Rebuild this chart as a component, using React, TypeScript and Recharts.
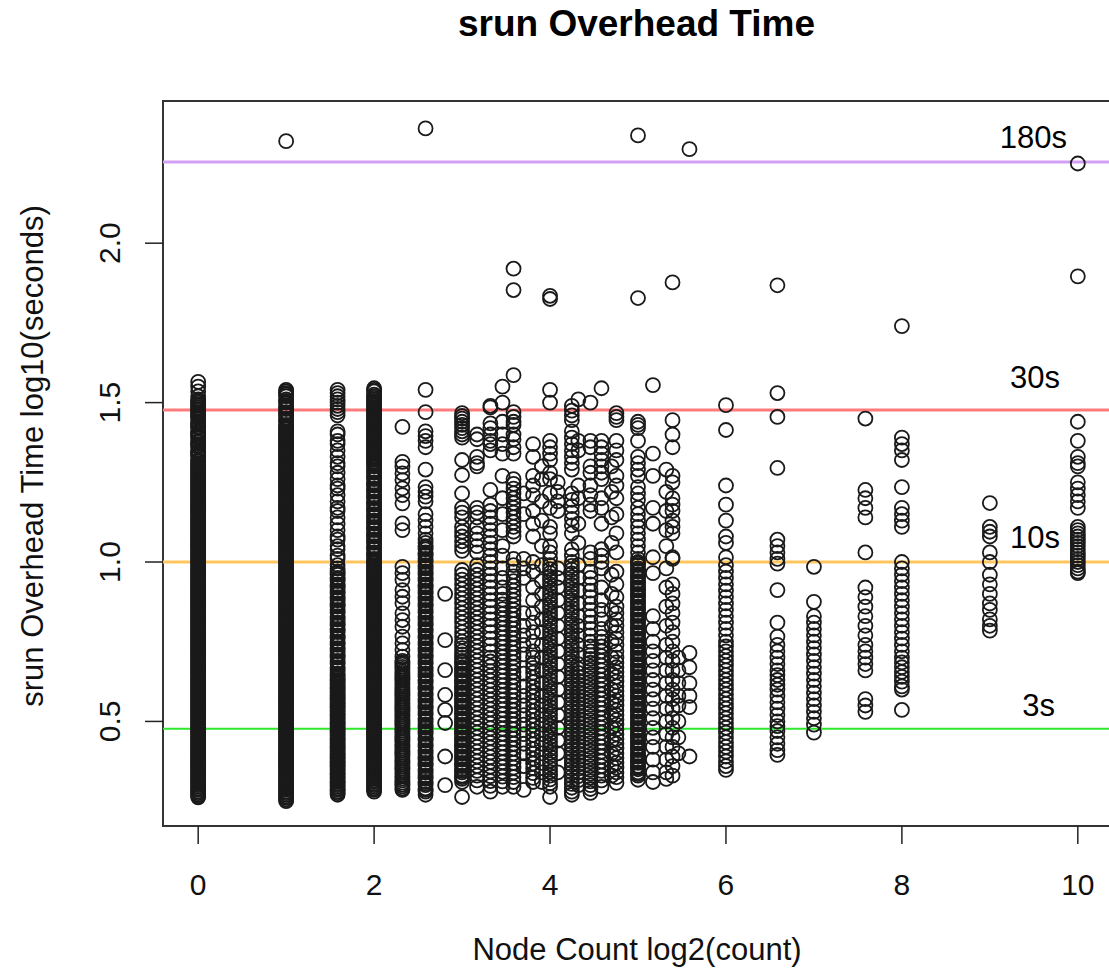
import React from "react";
import { ScatterChart, Scatter, XAxis, YAxis, ReferenceLine, ReferenceArea } from "recharts";

// x tick labels / y tick labels
const xTicks = [0, 2, 4, 6, 8, 10];
const yTicks = [0.5, 1.0, 1.5, 2.0];
const yTickLabels = ["0.5", "1.0", "1.5", "2.0"];

// threshold lines (log10 seconds) and their labels
const thresholdValues = [2.255, 1.477, 1.0, 0.477];
const thresholdLabels = ["180s", "30s", "10s", "3s"];

// srun overhead, log10(seconds), grouped by node count
const col_1 = [1.565,1.55,1.535,1.52,1.51,1.5,1.49,1.48,1.47,1.46,1.45,1.44,1.43,1.42,1.41,1.4,1.39,1.38,1.37,1.36,1.35,1.34,1.33,1.32,1.31,1.3,1.29,1.28,1.27,1.26,1.25,1.24,1.23,1.22,1.21,1.2,1.19,1.18,1.17,1.16,1.15,1.14,1.13,1.12,1.11,1.1,1.09,1.08,1.07,1.06,1.05,1.04,1.03,1.02,1.01,1.0,0.99,0.98,0.97,0.96,0.95,0.94,0.93,0.92,0.91,0.9,0.89,0.88,0.87,0.86,0.85,0.84,0.83,0.82,0.81,0.8,0.79,0.78,0.77,0.76,0.75,0.74,0.73,0.72,0.71,0.7,0.69,0.68,0.67,0.66,0.65,0.64,0.63,0.62,0.61,0.6,0.59,0.58,0.57,0.56,0.55,0.54,0.53,0.52,0.51,0.5,0.49,0.48,0.47,0.46,0.45,0.44,0.43,0.42,0.41,0.4,0.39,0.38,0.37,0.36,0.35,0.34,0.33,0.32,0.31,0.3,0.29,0.28,0.27,0.262,
  1.505,1.495,1.485,1.475,1.465,1.455,1.435,1.425,1.405,1.395,1.375,1.365,1.345,1.335,1.315,1.305,1.295,1.285,1.275,1.265,1.255,1.245,1.235,1.225,1.215,1.205,1.195,1.185,1.175,1.165,1.155,1.145,1.135,1.125,1.115,1.105,1.095,1.085,1.075,1.065,1.055,1.045,1.035,1.025,1.015,1.005,0.995,0.985,0.975,0.965,0.955,0.945,0.935,0.925,0.915,0.905,0.895,0.885,0.875,0.865,0.855,0.845,0.835,0.825,0.815,0.805,0.795,0.785,0.775,0.765,0.755,0.745,0.735,0.725,0.715,0.705,0.695,0.685,0.675,0.665,0.655,0.645,0.635,0.625,0.615,0.605,0.595,0.585,0.575,0.565,0.555,0.545,0.535,0.525,0.515,0.505,0.495,0.485,0.475,0.465,0.455,0.445,0.435,0.425,0.415,0.405,0.395,0.385,0.375,0.365,0.355,0.345,0.335,0.325,0.315,0.305,0.295,0.285,0.275,0.266];
const col_2 = [2.32,1.54,1.535,1.53,1.52,1.51,1.5,1.49,1.48,1.47,1.46,1.45,1.44,1.43,1.42,1.41,1.4,1.39,1.38,1.37,1.36,1.35,1.34,1.33,1.32,1.31,1.3,1.29,1.28,1.27,1.26,1.25,1.24,1.23,1.22,1.21,1.2,1.19,1.18,1.17,1.16,1.15,1.14,1.13,1.12,1.11,1.1,1.09,1.08,1.07,1.06,1.05,1.04,1.03,1.02,1.01,1.0,0.99,0.98,0.97,0.96,0.95,0.94,0.93,0.92,0.91,0.9,0.89,0.88,0.87,0.86,0.85,0.84,0.83,0.82,0.81,0.8,0.79,0.78,0.77,0.76,0.75,0.74,0.73,0.72,0.71,0.7,0.69,0.68,0.67,0.66,0.65,0.64,0.63,0.62,0.61,0.6,0.59,0.58,0.57,0.56,0.55,0.54,0.53,0.52,0.51,0.5,0.49,0.48,0.47,0.46,0.45,0.44,0.43,0.42,0.41,0.4,0.39,0.38,0.37,0.36,0.35,0.34,0.33,0.32,0.31,0.3,0.29,0.28,0.27,0.26,0.25,
  1.525,1.505,1.485,1.465,1.445,1.425,1.415,1.405,1.395,1.385,1.375,1.365,1.355,1.345,1.335,1.325,1.315,1.305,1.295,1.285,1.275,1.265,1.255,1.245,1.235,1.225,1.215,1.205,1.195,1.185,1.175,1.165,1.155,1.145,1.135,1.125,1.115,1.105,1.095,1.085,1.075,1.065,1.055,1.045,1.035,1.025,1.015,1.005,0.995,0.985,0.975,0.965,0.955,0.945,0.935,0.925,0.915,0.905,0.895,0.885,0.875,0.865,0.855,0.845,0.835,0.825,0.815,0.805,0.795,0.785,0.775,0.765,0.755,0.745,0.735,0.725,0.715,0.705,0.695,0.685,0.675,0.665,0.655,0.645,0.635,0.625,0.615,0.605,0.595,0.585,0.575,0.565,0.555,0.545,0.535,0.525,0.515,0.505,0.495,0.485,0.475,0.465,0.455,0.445,0.435,0.425,0.415,0.405,0.395,0.385,0.375,0.365,0.355,0.345,0.335,0.325,0.315,0.305,0.295,0.285,0.275,0.265,0.255];
const col_3 = [1.54,1.53,1.52,1.51,1.5,1.49,1.48,1.47,1.46,1.41,1.4,1.38,1.37,1.35,1.33,1.31,1.3,1.28,1.26,1.24,1.23,1.21,1.19,1.17,1.16,1.14,1.12,1.1,1.08,1.07,1.05,1.04,1.02,1.01,0.99,0.98,0.97,0.96,0.95,0.94,0.93,0.92,0.91,0.9,0.89,0.88,0.87,0.86,0.85,0.84,0.83,0.82,0.81,0.8,0.79,0.78,0.77,0.76,0.75,0.74,0.73,0.72,0.71,0.7,0.69,0.68,0.67,0.66,0.65,0.64,0.63,0.62,0.61,0.6,0.59,0.58,0.57,0.56,0.55,0.54,0.53,0.52,0.51,0.5,0.49,0.48,0.47,0.46,0.45,0.44,0.43,0.42,0.41,0.4,0.39,0.38,0.37,0.36,0.35,0.34,0.33,0.32,0.31,0.3,0.29,0.28,0.27,
  0.965,0.945,0.925,0.905,0.885,0.865,0.845,0.825,0.805,0.785,0.765,0.745,0.725,0.705,0.685,0.665,0.645,0.635,0.625,0.615,0.605,0.595,0.585,0.575,0.565,0.555,0.545,0.535,0.525,0.515,0.505,0.495,0.485,0.475,0.465,0.455,0.445,0.435,0.425,0.415,0.405,0.395,0.385,0.375,0.365,0.355,0.345,0.335,0.325,0.315,0.305,0.295,0.285,0.275];
const col_4 = [1.545,1.54,1.535,1.52,1.51,1.5,1.49,1.48,1.47,1.46,1.45,1.44,1.43,1.42,1.41,1.4,1.39,1.38,1.37,1.36,1.35,1.34,1.33,1.32,1.31,1.3,1.29,1.28,1.27,1.26,1.25,1.24,1.23,1.22,1.21,1.2,1.19,1.18,1.17,1.16,1.15,1.14,1.13,1.12,1.11,1.1,1.09,1.08,1.07,1.06,1.05,1.04,1.03,1.02,1.01,1.0,0.99,0.98,0.97,0.96,0.95,0.94,0.93,0.92,0.91,0.9,0.89,0.88,0.87,0.86,0.85,0.84,0.83,0.82,0.81,0.8,0.79,0.78,0.77,0.76,0.75,0.74,0.73,0.72,0.71,0.7,0.69,0.68,0.67,0.66,0.65,0.64,0.63,0.62,0.61,0.6,0.59,0.58,0.57,0.56,0.55,0.54,0.53,0.52,0.51,0.5,0.49,0.48,0.47,0.46,0.45,0.44,0.43,0.42,0.41,0.4,0.39,0.38,0.37,0.36,0.35,0.34,0.33,0.32,0.31,0.3,0.29,0.28,
  1.525,1.515,1.505,1.495,1.485,1.475,1.465,1.455,1.445,1.435,1.425,1.415,1.405,1.395,1.385,1.375,1.365,1.355,1.345,1.335,1.325,1.315,1.305,1.285,1.265,1.245,1.225,1.205,1.185,1.165,1.145,1.125,1.105,1.085,1.065,1.045,1.025,1.005,0.995,0.985,0.975,0.965,0.955,0.945,0.935,0.925,0.915,0.905,0.895,0.885,0.875,0.865,0.855,0.845,0.835,0.825,0.815,0.805,0.795,0.785,0.775,0.765,0.755,0.745,0.735,0.725,0.715,0.705,0.695,0.685,0.675,0.665,0.655,0.645,0.635,0.625,0.615,0.605,0.595,0.585,0.575,0.565,0.555,0.545,0.535,0.525,0.515,0.505,0.495,0.485,0.475,0.465,0.455,0.445,0.435,0.425,0.415,0.405,0.395,0.385,0.375,0.365,0.355,0.345,0.335,0.325,0.315,0.305,0.295,0.285];
const col_5 = [1.424,1.314,1.299,1.278,1.257,1.231,1.21,1.184,1.121,1.1,0.985,0.965,0.944,0.912,0.891,0.871,0.839,0.818,0.797,0.766,0.745,0.724,0.703,0.69,0.678,0.665,0.652,0.64,0.628,0.615,0.602,0.59,0.578,0.565,0.552,0.54,0.528,0.515,0.502,0.49,0.478,0.465,0.452,0.44,0.428,0.415,0.402,0.39,0.378,0.365,0.352,0.34,0.328,0.315,0.302,0.29,0.285,
  0.684,0.671,0.658,0.646,0.634,0.621,0.608,0.596,0.584,0.571,0.558,0.546,0.534,0.521,0.508,0.496,0.484,0.471,0.458,0.446,0.434,0.421,0.408,0.396,0.384,0.371,0.358,0.346,0.334,0.321,0.308,0.296];
const col_6 = [2.36,1.54,1.47,1.41,1.395,1.38,1.36,1.29,1.235,1.22,1.205,1.19,1.15,1.13,1.11,1.09,1.07,1.06,1.05,1.04,1.03,1.02,1.01,1.0,0.99,0.98,0.97,0.96,0.95,0.94,0.93,0.92,0.91,0.9,0.89,0.88,0.87,0.86,0.85,0.84,0.83,0.82,0.81,0.8,0.79,0.78,0.77,0.76,0.75,0.74,0.73,0.72,0.71,0.7,0.69,0.68,0.67,0.66,0.65,0.64,0.63,0.62,0.61,0.6,0.59,0.58,0.57,0.56,0.55,0.54,0.53,0.52,0.51,0.5,0.49,0.48,0.47,0.46,0.45,0.44,0.43,0.42,0.41,0.4,0.39,0.38,0.37,0.36,0.35,0.34,0.33,0.32,0.31,0.3,0.29,0.28,0.27,
  1.045,1.025,1.005,0.985,0.965,0.945,0.925,0.905,0.885,0.865,0.845,0.825,0.805,0.785,0.765,0.745,0.725,0.705,0.685,0.665,0.645,0.625,0.605,0.585,0.565,0.545,0.525,0.505,0.485,0.465,0.445,0.425,0.405,0.385,0.365,0.345,0.325,0.305,0.285];
const col_7 = [0.9,0.755,0.661,0.583,0.536,0.495,0.39,0.3];
const col_8 = [1.467,1.458,1.45,1.44,1.43,1.42,1.41,1.4,1.39,1.32,1.273,1.215,1.17,1.155,1.14,1.11,1.095,1.08,1.065,1.05,1.035,0.975,0.96,0.945,0.93,0.915,0.9,0.885,0.87,0.855,0.84,0.825,0.81,0.795,0.78,0.765,0.75,0.74,0.73,0.72,0.71,0.7,0.69,0.68,0.67,0.66,0.65,0.64,0.63,0.62,0.61,0.6,0.59,0.58,0.57,0.56,0.55,0.54,0.53,0.52,0.51,0.5,0.49,0.48,0.47,0.46,0.45,0.44,0.43,0.42,0.41,0.4,0.39,0.38,0.37,0.36,0.35,0.34,0.33,0.32,0.31,0.263,
  0.685,0.665,0.645,0.625,0.605,0.585,0.565,0.545,0.525,0.505,0.485,0.465,0.445,0.425,0.405,0.385,0.365,0.345,0.325];
const col_9 = [1.4,1.385,1.33,1.31,1.3,1.17,1.155,1.14,1.11,1.09,1.07,1.05,1.03,0.99,0.975,0.96,0.945,0.93,0.915,0.9,0.885,0.87,0.855,0.84,0.825,0.81,0.795,0.78,0.765,0.75,0.735,0.72,0.705,0.69,0.675,0.66,0.645,0.63,0.615,0.6,0.585,0.57,0.555,0.54,0.525,0.51,0.495,0.48,0.465,0.45,0.435,0.42,0.405,0.39,0.375,0.36,0.345,0.33,0.315,0.295];
const col_10 = [1.49,1.485,1.435,1.42,1.4,1.38,1.37,1.35,1.226,1.18,1.16,1.14,1.12,1.1,1.08,1.06,1.04,1.02,1.0,0.98,0.96,0.94,0.92,0.9,0.88,0.86,0.84,0.82,0.8,0.78,0.76,0.74,0.72,0.7,0.688,0.673,0.658,0.643,0.628,0.613,0.598,0.583,0.568,0.553,0.538,0.523,0.508,0.493,0.478,0.463,0.448,0.433,0.418,0.403,0.388,0.373,0.358,0.343,0.328,0.313,0.298,0.28];
const col_11 = [1.55,1.5,1.44,1.4,1.37,1.34,1.27,1.2,1.15,1.1,1.05,1.02,0.98,0.95,0.92,0.9,0.882,0.867,0.852,0.837,0.822,0.807,0.792,0.777,0.762,0.747,0.732,0.717,0.702,0.687,0.672,0.657,0.642,0.627,0.612,0.597,0.582,0.567,0.552,0.537,0.522,0.507,0.492,0.477,0.462,0.447,0.432,0.417,0.402,0.387,0.372,0.357,0.342,0.327,0.312,0.295];
const col_12 = [1.92,1.853,1.586,1.47,1.455,1.44,1.43,1.4,1.385,1.36,1.34,1.26,1.245,1.23,1.215,1.2,1.185,1.17,1.155,1.14,1.125,1.11,1.095,1.08,1.01,0.99,0.97,0.955,0.94,0.925,0.91,0.895,0.88,0.865,0.85,0.835,0.82,0.805,0.79,0.775,0.76,0.745,0.73,0.715,0.7,0.685,0.67,0.655,0.64,0.625,0.61,0.595,0.58,0.565,0.55,0.535,0.52,0.505,0.49,0.475,0.46,0.445,0.43,0.415,0.4,0.385,0.37,0.355,0.34,0.325,0.31,0.295];
const col_13 = [1.215,1.15,1.01,0.98,0.95,0.84,0.8,0.77,0.74,0.71,0.65,0.61,0.58,0.55,0.52,0.49,0.46,0.43,0.4,0.36,0.285];
const col_14 = [1.37,1.33,1.27,1.24,1.21,1.16,1.12,1.08,1.0,0.97,0.92,0.88,0.84,0.81,0.78,0.75,0.72,0.7,0.683,0.668,0.653,0.638,0.623,0.608,0.593,0.578,0.563,0.548,0.533,0.518,0.503,0.488,0.473,0.458,0.443,0.428,0.413,0.398,0.383,0.368,0.353,0.338,0.323,0.31];
const col_15 = [1.3,1.26,1.19,1.13,1.05,0.99,0.94,0.9,0.86,0.82,0.78,0.74,0.7,0.66,0.62,0.58,0.55,0.52,0.49,0.46,0.43,0.4,0.37,0.34,0.31];
const col_16 = [1.835,1.825,1.54,1.5,1.38,1.36,1.34,1.32,1.28,1.26,1.215,1.17,1.11,1.09,1.05,1.03,1.01,0.99,0.978,0.966,0.954,0.942,0.93,0.918,0.906,0.894,0.882,0.87,0.858,0.846,0.834,0.822,0.81,0.798,0.786,0.774,0.762,0.75,0.738,0.726,0.714,0.702,0.69,0.678,0.666,0.654,0.642,0.63,0.618,0.606,0.594,0.582,0.57,0.558,0.546,0.534,0.522,0.51,0.498,0.486,0.474,0.462,0.45,0.438,0.426,0.414,0.402,0.39,0.378,0.366,0.354,0.342,0.33,0.318,0.306,0.295,0.263];
const col_17 = [1.25,1.22,1.19,1.16,0.98,0.95,0.92,0.88,0.84,0.8,0.76,0.72,0.68,0.64,0.6,0.56,0.52,0.48,0.44,0.4,0.34];
const col_19 = [1.49,1.475,1.46,1.445,1.41,1.39,1.37,1.35,1.33,1.31,1.29,1.215,1.195,1.175,1.155,1.135,1.115,1.09,1.04,1.02,1.0,0.988,0.976,0.964,0.952,0.94,0.928,0.916,0.904,0.892,0.88,0.868,0.856,0.844,0.832,0.82,0.808,0.796,0.784,0.772,0.76,0.748,0.736,0.724,0.712,0.7,0.688,0.676,0.664,0.652,0.64,0.628,0.616,0.604,0.592,0.58,0.568,0.556,0.544,0.532,0.52,0.508,0.496,0.484,0.472,0.46,0.448,0.436,0.424,0.412,0.4,0.388,0.376,0.364,0.352,0.34,0.328,0.316,0.304,0.292,0.28,0.27];
const col_20 = [1.51,1.38,1.35,1.24,1.2,1.12,1.06,0.99,0.95,0.91,0.87,0.83,0.8,0.77,0.74,0.71,0.68,0.665,0.652,0.64,0.628,0.616,0.604,0.592,0.58,0.568,0.556,0.544,0.532,0.52,0.508,0.496,0.484,0.472,0.46,0.448,0.436,0.424,0.412,0.4,0.388,0.376,0.364,0.352,0.34,0.328,0.316,0.3];
const col_22 = [1.5,1.38,1.36,1.3,1.28,1.24,1.21,1.18,1.16,1.03,1.01,0.97,0.95,0.93,0.91,0.89,0.87,0.85,0.83,0.81,0.79,0.77,0.75,0.735,0.72,0.708,0.696,0.684,0.672,0.66,0.648,0.636,0.624,0.612,0.6,0.588,0.576,0.564,0.552,0.54,0.528,0.516,0.504,0.492,0.48,0.468,0.456,0.444,0.432,0.42,0.408,0.396,0.384,0.372,0.36,0.348,0.336,0.324,0.312,0.3,0.288,0.276];
const col_24 = [1.545,1.38,1.36,1.34,1.32,1.3,1.28,1.26,1.2,1.17,1.12,1.04,1.02,1.0,0.98,0.92,0.88,0.85,0.82,0.79,0.765,0.75,0.735,0.72,0.705,0.69,0.675,0.66,0.645,0.63,0.615,0.6,0.585,0.57,0.555,0.54,0.525,0.51,0.495,0.48,0.465,0.45,0.435,0.42,0.405,0.39,0.375,0.36,0.345,0.33,0.315,0.295];
const col_26 = [1.3,1.22,1.14,1.06,0.96,0.9,0.85,0.8,0.75,0.7,0.65,0.6,0.56,0.52,0.48,0.44,0.4,0.36,0.33];
const col_27 = [1.467,1.455,1.445,1.38,1.35,1.32,1.27,1.24,1.2,1.15,1.09,1.03,0.97,0.93,0.89,0.86,0.84,0.82,0.8,0.78,0.76,0.74,0.72,0.7,0.685,0.67,0.655,0.64,0.625,0.61,0.595,0.58,0.565,0.55,0.535,0.52,0.505,0.49,0.475,0.46,0.445,0.43,0.415,0.4,0.385,0.37,0.355,0.34,0.325,0.307];
const col_32 = [2.338,1.828,1.44,1.43,1.42,1.38,1.33,1.31,1.29,1.27,1.235,1.215,1.195,1.17,1.15,1.13,1.11,1.09,1.07,1.05,1.03,1.01,1.0,0.99,0.98,0.97,0.96,0.95,0.94,0.93,0.92,0.91,0.9,0.89,0.88,0.87,0.86,0.85,0.84,0.83,0.82,0.81,0.8,0.79,0.78,0.77,0.76,0.75,0.74,0.73,0.72,0.71,0.7,0.69,0.68,0.67,0.66,0.65,0.64,0.63,0.62,0.61,0.6,0.59,0.58,0.57,0.56,0.55,0.54,0.53,0.52,0.51,0.5,0.49,0.48,0.47,0.46,0.45,0.44,0.43,0.42,0.41,0.4,0.39,0.38,0.37,0.36,0.35,0.34,0.33,0.317,
  0.995,0.975,0.955,0.935,0.915,0.895,0.875,0.855,0.835,0.815,0.795,0.775,0.755,0.735,0.715,0.695,0.675,0.655,0.635,0.615,0.595,0.575,0.555,0.535,0.515,0.495,0.475,0.455,0.435,0.415,0.395,0.375,0.355,0.335];
const col_36 = [1.555,1.34,1.27,1.17,1.12,1.015,0.965,0.83,0.79,0.75,0.72,0.69,0.66,0.63,0.6,0.57,0.54,0.51,0.48,0.45,0.42,0.38,0.34,0.31];
const col_40 = [1.29,1.22,1.16,1.1,1.05,0.98,0.92,0.86,0.8,0.74,0.7,0.66,0.62,0.58,0.54,0.5,0.46,0.42,0.38,0.34,0.32];
const col_42 = [1.877,1.445,1.4,1.36,1.27,1.25,1.2,1.18,1.16,1.13,1.11,1.09,1.015,1.01,0.93,0.9,0.87,0.84,0.81,0.78,0.75,0.72,0.69,0.66,0.63,0.6,0.57,0.54,0.51,0.48,0.45,0.42,0.39,0.36,0.33];
const col_44 = [0.7,0.66,0.62,0.58,0.55,0.5,0.45,0.4];
const col_48 = [2.295,0.715,0.67,0.62,0.58,0.545,0.39];
const col_64 = [1.492,1.414,1.24,1.18,1.13,1.08,1.06,1.015,0.99,0.97,0.95,0.93,0.91,0.89,0.87,0.85,0.83,0.81,0.79,0.77,0.75,0.735,0.72,0.705,0.69,0.675,0.66,0.645,0.63,0.615,0.6,0.585,0.57,0.555,0.54,0.525,0.51,0.495,0.48,0.465,0.45,0.435,0.42,0.405,0.39,0.375,0.36,0.348];
const col_96 = [1.868,1.53,1.455,1.295,1.07,1.05,1.03,1.01,0.995,0.912,0.81,0.766,0.74,0.72,0.7,0.68,0.66,0.645,0.63,0.615,0.6,0.58,0.56,0.54,0.52,0.5,0.485,0.47,0.45,0.43,0.41,0.395];
const col_128 = [0.985,0.875,0.83,0.81,0.79,0.77,0.75,0.73,0.71,0.69,0.67,0.65,0.63,0.61,0.59,0.57,0.55,0.53,0.51,0.49,0.465];
const col_192 = [1.45,1.226,1.2,1.17,1.14,1.03,0.92,0.89,0.86,0.83,0.8,0.77,0.74,0.72,0.7,0.68,0.66,0.57,0.55,0.53];
const col_256 = [1.74,1.39,1.37,1.35,1.32,1.235,1.17,1.15,1.13,1.11,1.0,0.98,0.96,0.94,0.92,0.9,0.88,0.86,0.84,0.82,0.8,0.78,0.76,0.74,0.72,0.7,0.685,0.67,0.655,0.64,0.625,0.61,0.6,0.536];
const col_512 = [1.185,1.11,1.095,1.08,1.03,1.0,0.96,0.93,0.9,0.87,0.85,0.82,0.8,0.785];
const col_1024 = [2.25,1.896,1.44,1.38,1.33,1.31,1.3,1.25,1.23,1.21,1.19,1.17,1.11,1.1,1.09,1.08,1.07,1.06,1.05,1.04,1.03,1.02,1.01,1.0,0.99,0.98,0.97,0.965];

const nodeCounts = [1, 2, 3, 4, 5, 6, 7, 8, 9, 10, 11, 12, 13, 14, 15, 16, 17, 19, 20, 22, 24, 26, 27, 32, 36, 40, 42, 44, 48, 64, 96, 128, 192, 256, 512, 1024];
const columns = [col_1, col_2, col_3, col_4, col_5, col_6, col_7, col_8, col_9, col_10, col_11, col_12, col_13, col_14, col_15, col_16, col_17, col_19, col_20, col_22, col_24, col_26, col_27, col_32, col_36, col_40, col_42, col_44, col_48, col_64, col_96, col_128, col_192, col_256, col_512, col_1024];

const points: { x: number; y: number }[] = [];
nodeCounts.forEach((n, i) => {
  columns[i].forEach((v) => points.push({ x: Math.log2(n), y: v }));
});

const FONT = "'Liberation Sans', Arial, Helvetica, sans-serif";
const X_DOMAIN: [number, number] = [-0.4, 10.4];
const Y_DOMAIN: [number, number] = [0.172, 2.446];

const lineColors = ["#d39ff5", "#ff7b7b", "#ffc65e", "#2ee82e"];
const lineWidths = [3, 3, 3, 2];
const labelShift = [
  { dx: -46, dy: -14 },
  { dx: -53, dy: -22 },
  { dx: -53, dy: -14 },
  { dx: -58, dy: -13 },
];

const Ring = (props: any) => {
  const { cx, cy } = props;
  if (cx == null || cy == null) return null;
  return <circle cx={cx} cy={cy} r={7} fill="none" stroke="#1a1a1a" strokeWidth={1.8} />;
};

const XTick = (props: any) => {
  const { x, y, payload } = props;
  return (
    <text x={x} y={y + 51} textAnchor="middle" fontSize={30} fontFamily={FONT} fill="#111">
      {payload.value}
    </text>
  );
};

const YTick = (props: any) => {
  const { x, y, payload } = props;
  const idx = yTicks.indexOf(payload.value);
  const label = idx >= 0 ? yTickLabels[idx] : String(payload.value);
  const bx = x - 25;
  return (
    <text x={bx} y={y} transform={`rotate(-90, ${bx}, ${y})`} textAnchor="middle" fontSize={30} fontFamily={FONT} fill="#111">
      {label}
    </text>
  );
};

const makeLabel = (i: number) => (props: any) => {
  const vb = props.viewBox || {};
  const x = (vb.x || 0) + (vb.width || 0) + labelShift[i].dx;
  const y = (vb.y || 0) + labelShift[i].dy;
  return (
    <text x={x} y={y} textAnchor="end" fontSize={31} fontFamily={FONT} fill="#000">
      {thresholdLabels[i]}
    </text>
  );
};

export default function App() {
  return (
    <div style={{ position: "absolute", left: 0, top: 0, width: 1109, height: 975, overflow: "hidden", background: "#fff" }}>
      <ScatterChart width={1140} height={975} margin={{ top: 101, right: 27, bottom: 89, left: 0 }}>
        <XAxis
          type="number"
          dataKey="x"
          domain={X_DOMAIN}
          ticks={xTicks}
          allowDataOverflow
          axisLine={false}
          tickLine={{ stroke: "#222", strokeWidth: 1.5 }}
          tickSize={18}
          tickMargin={0}
          height={60}
          tick={<XTick />}
          interval={0}
        />
        <YAxis
          type="number"
          dataKey="y"
          domain={Y_DOMAIN}
          ticks={yTicks}
          allowDataOverflow
          axisLine={false}
          tickLine={{ stroke: "#222", strokeWidth: 1.5 }}
          tickSize={18}
          tickMargin={0}
          width={163}
          tick={<YTick />}
          interval={0}
        />
        <Scatter data={points} shape={Ring} isAnimationActive={false} />
        {thresholdValues.map((v, i) => (
          <ReferenceLine
            key={i}
            y={v}
            stroke={lineColors[i]}
            strokeWidth={lineWidths[i]}
            label={makeLabel(i)}
          />
        ))}
        <ReferenceArea
          x1={X_DOMAIN[0]}
          x2={X_DOMAIN[1]}
          y1={Y_DOMAIN[0]}
          y2={Y_DOMAIN[1]}
          fill="none"
          fillOpacity={0}
          stroke="#333"
          strokeWidth={2}
        />
      </ScatterChart>
      <svg width={1109} height={975} style={{ position: "absolute", left: 0, top: 0, pointerEvents: "none" }}>
        <text x={636.5} y={36} textAnchor="middle" fontSize={37} fontWeight="bold" fontFamily={FONT} fill="#000">
          srun Overhead Time
        </text>
        <text x={637} y={960} textAnchor="middle" fontSize={31} fontFamily={FONT} fill="#111">
          Node Count log2(count)
        </text>
        <text x={43} y={456} transform="rotate(-90, 43, 456)" textAnchor="middle" fontSize={31} fontFamily={FONT} fill="#111">
          srun Overhead Time log10(seconds)
        </text>
      </svg>
    </div>
  );
}
